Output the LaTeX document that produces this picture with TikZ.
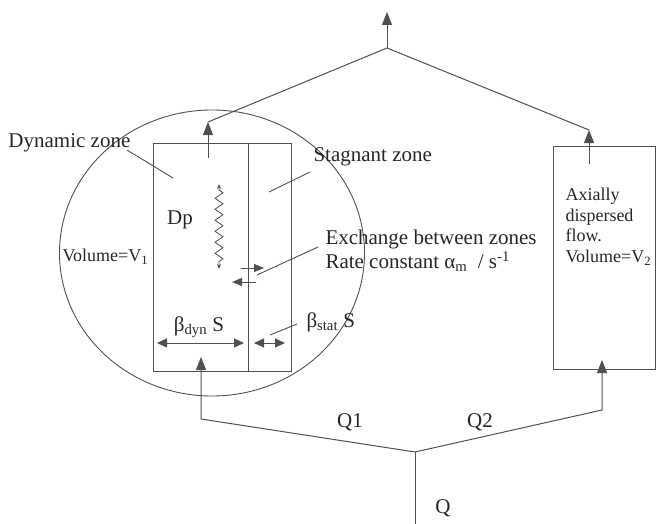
\documentclass[tikz,border=0pt]{standalone}
\usepackage{fontspec}
\setmainfont{Liberation Serif}
\usetikzlibrary{arrows.meta,shapes.geometric,decorations.pathmorphing}
\definecolor{ln}{HTML}{505050}
\definecolor{tx}{HTML}{262626}
\tikzset{
  box/.style={draw=ln, rectangle, inner sep=0pt, line width=1pt},
  lbl/.style={text=tx, inner sep=0pt, font=\fontsize{21}{24}\selectfont},
  slbl/.style={text=tx, inner sep=0pt, font=\fontsize{18}{20.5}\selectfont},
  flow/.style={-{Triangle[length=13pt,width=10pt]}},
  dbl/.style={{Triangle[length=10pt,width=9pt]}-{Triangle[length=10pt,width=9pt]}},
  sarr/.style={-{Triangle[length=10pt,width=8pt]}},
  leader/.style={line width=0.9pt}
}
\begin{document}
\begin{tikzpicture}[x=1pt,y=-1pt,color=ln,line width=1pt]
\useasboundingbox (0,0) rectangle (658,524);
% zone circle
\node[draw=ln, ellipse, line width=0.9pt, minimum width=305pt, minimum height=286pt, inner sep=0pt] (zone) at (212,253) {};
% boxes
\node[box, minimum width=95pt, minimum height=228pt] (dyn) at (200.5,257) {};
\node[box, minimum width=43pt, minimum height=228pt] (stag) at (269.5,257) {};
\node[box, minimum width=102pt, minimum height=223pt] (axb) at (604,257.5) {};
% coordinates of flow network
\coordinate (qin) at (415,524);
\coordinate (split) at (415,452);
\coordinate (b1) at (201,419);
\coordinate (t1) at (201,357);
\coordinate (b2) at (602,410);
\coordinate (t2) at (602,360);
\coordinate (o1s) at (208,158);
\coordinate (o1) at (208,122);
\coordinate (o2s) at (589,164);
\coordinate (o2) at (589,130);
\coordinate (apex) at (387,48);
\coordinate (out) at (387,12);
% inlet
\draw (qin) -- (split);
\draw[flow] (split) -- (b1) -- (t1);
\draw[flow] (split) -- (b2) -- (t2);
% outlet
\draw[flow] (o1s) -- (o1);
\draw[flow] (o2s) -- (o2);
\draw (o1) -- (apex) -- (o2);
\draw[flow] (apex) -- (out);
% labels
\node[lbl, anchor=west] (dz) at (8,143) {Dynamic zone};
\coordinate (dzl) at (173,178);
\draw[leader] (127,150) -- (dzl);
\node[lbl, anchor=west] (sz) at (313,157) {Stagnant zone};
\coordinate (szl) at (269,192);
\draw[leader] (310,172) -- (szl);
\node[lbl] (dp) at (180,220) {Dp};
\coordinate (wt) at (219,184);
\coordinate (wb) at (219,269);
\draw[{Stealth[length=5pt,width=4pt]}-{Stealth[length=5pt,width=4pt]}, decorate,
  decoration={zigzag, segment length=11pt, amplitude=4pt, pre length=6pt, post length=6pt}, line width=0.8pt] (wt) -- (wb);
\node[slbl, anchor=west] (v1) at (62,257) {Volume=V\textsubscript{1}};
\node[lbl, anchor=west, align=left] (ex) at (325,251)
  {Exchange between zones\\Rate constant α\textsubscript{m}\ \ / s\textsuperscript{-1}};
% exchange arrows
\coordinate (e1a) at (241,268);
\coordinate (e1b) at (264,268);
\coordinate (e2a) at (256,282);
\coordinate (e2b) at (232,282);
\draw[sarr] (e1a) -- (e1b);
\draw[sarr] (e2a) -- (e2b);
\coordinate (exl) at (257,275);
\draw[leader] (318,247) -- (exl);
% widths
\node[lbl] (bd) at (199,327) {β\textsubscript{dyn} S};
\coordinate (d1) at (157,343);
\coordinate (d2) at (244,343);
\draw[dbl] (d1) -- (d2);
\coordinate (s1) at (254,343);
\coordinate (s2) at (285,343);
\draw[dbl] (s1) -- (s2);
\node[lbl, anchor=west] (bs) at (306,322) {β\textsubscript{stat} S};
\coordinate (bsl) at (270,335);
\draw[leader] (297,324) -- (bsl);
% right box text
\node[slbl, anchor=north west, align=left] (axt) at (565,188)
  {Axially\\dispersed\\flow.\\Volume=V\textsubscript{2}};
% flow labels
\node[lbl] (q1) at (350,422) {Q1};
\node[lbl] (q2) at (480,422) {Q2};
\node[lbl] (q) at (443,508) {Q};
\end{tikzpicture}
\end{document}
